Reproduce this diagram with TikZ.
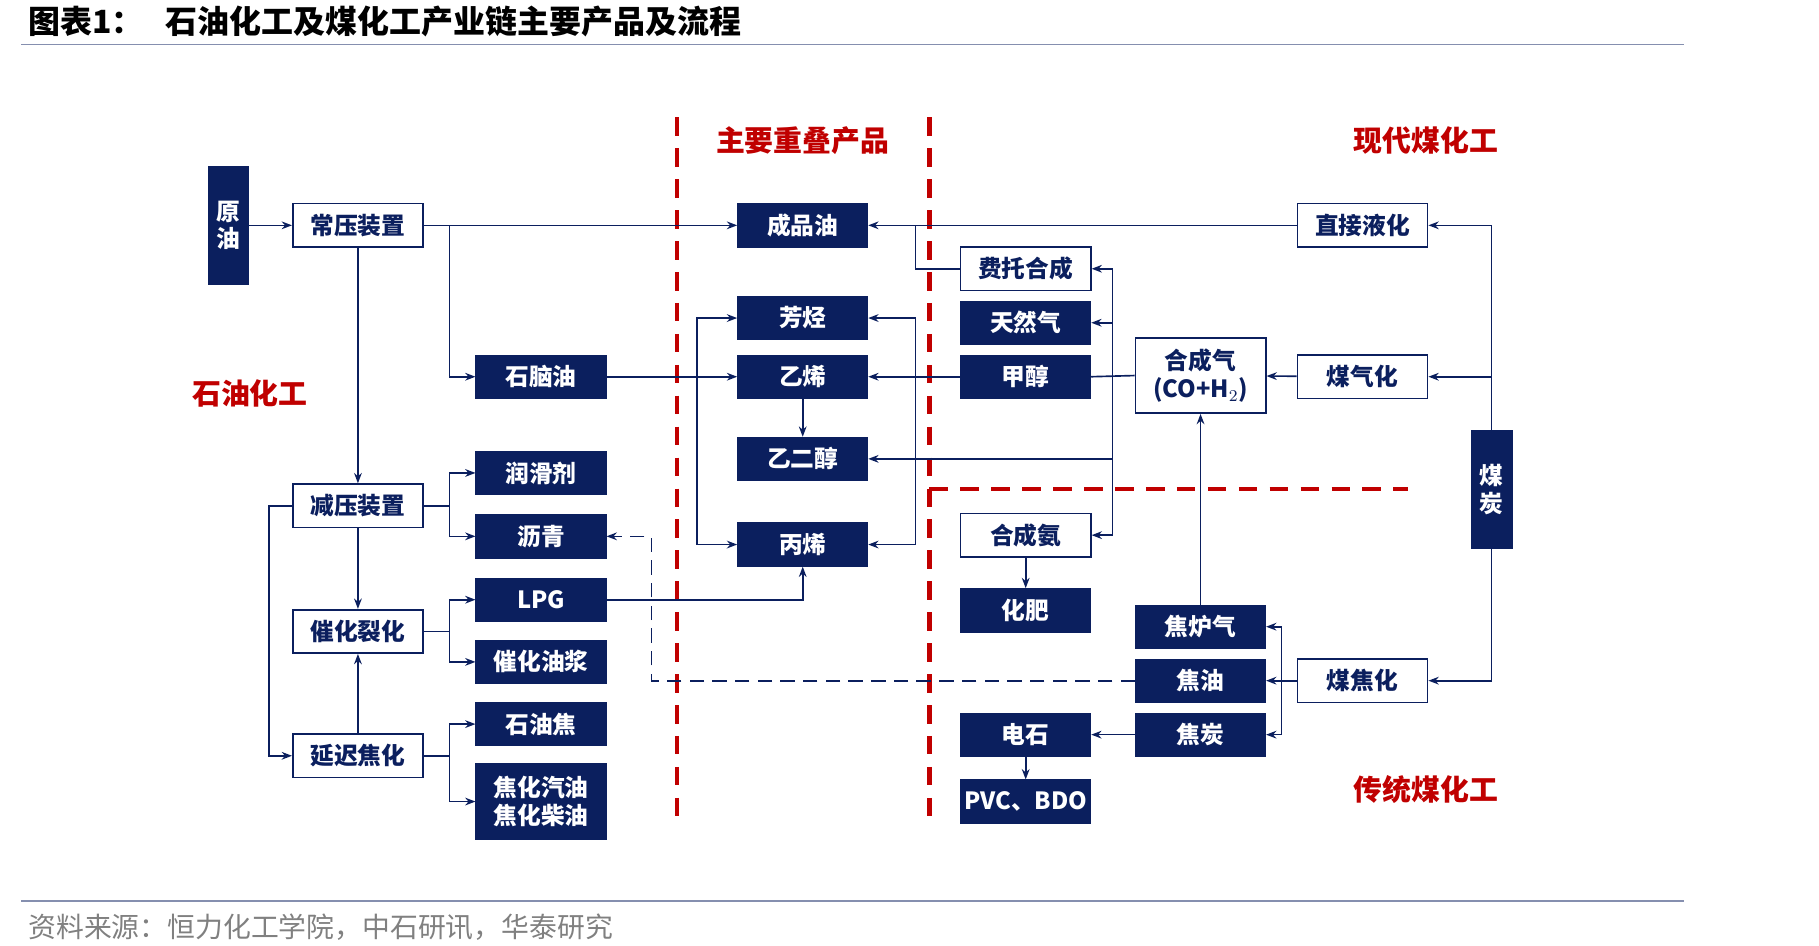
\documentclass[tikz,border=0pt]{standalone}
\usepackage{fontspec}
\setmainfont{Noto Sans CJK SC}
\usetikzlibrary{arrows.meta}
\definecolor{navy}{HTML}{0B1F5E}
\definecolor{redline}{HTML}{C00000}
\tikzset{
  dark/.style={fill=navy, draw=navy, text=white, minimum width=2.22cm, minimum height=0.74cm, font=\fontsize{11.5}{13.5}\selectfont\bfseries, inner sep=1pt},
  light/.style={fill=white, draw=navy, thick, text=navy, minimum width=2.22cm, minimum height=0.74cm, font=\fontsize{11.5}{13.5}\selectfont\bfseries, inner sep=1pt},
  flow/.style={draw=navy, thick, -{Stealth[length=5pt]}},
  link/.style={draw=navy, thick},
  sep/.style={draw=redline, line width=2pt, dash pattern=on 9pt off 6pt},
  area/.style={text=redline, font=\fontsize{14}{16}\selectfont\bfseries}
}
\begin{document}
\begin{tikzpicture}[x=0.02cm, y=-0.02cm]
    \useasboundingbox (0,0) rectangle (1550,806);

    % title and frame lines
    \node[anchor=west, font=\fontsize{15.5}{18}\selectfont\bfseries](title) at (18,18){图表1：\ \ \ 石油化工及煤化工产业链主要产品及流程};
    \draw[color=navy!50, thick] (18,38) -- (1435,38);
    \draw[color=navy!50, thick] (18,768) -- (1435,768);
    \node[anchor=west, text=gray, font=\fontsize{13.5}{16}\selectfont](source) at (18,790){资料来源：恒力化工学院，中石研讯，华泰研究};

    % separators
    \draw[sep] (577,100) -- (577,703);
    \draw[sep] (792,100) -- (792,703);
    \draw[sep] (792,417) -- (1200,417);
    \node[area](overlap) at (684,120){主要重叠产品};
    \node[area](modern) at (1215,120){现代煤化工};
    \node[area](petro) at (213,335){石油化工};
    \node[area](tradition) at (1215,673){传统煤化工};

    % petrochemical side
    \node[dark, minimum width=0.68cm, minimum height=2cm, align=center](crude) at (195,192){原\\油};
    \node[light](atmos) at (305,192){常压装置};
    \node[light](vacuum) at (305,431){减压装置};
    \node[light](fcc) at (305,538){催化裂化};
    \node[light](coker) at (305,644){延迟焦化};
    \node[dark](naphtha) at (461,321){石脑油};
    \node[dark](lube) at (461,403){润滑剂};
    \node[dark](asphalt) at (461,457){沥青};
    \node[dark](lpg) at (461,511){LPG};
    \node[dark](slurry) at (461,564){催化油浆};
    \node[dark](petcoke) at (461,617){石油焦};
    \node[dark, minimum height=1.3cm, align=center](cokefuel) at (461,683){焦化汽油\\焦化柴油};

    % overlapping products
    \node[dark](oil) at (684,192){成品油};
    \node[dark](arom) at (684,271){芳烃};
    \node[dark](ethylene) at (684,321){乙烯};
    \node[dark](glycol) at (684,391){乙二醇};
    \node[dark](propylene) at (684,464){丙烯};

    % coal chemical side
    \node[light](ft) at (874,229){费托合成};
    \node[dark](natgas) at (874,275){天然气};
    \node[dark](methanol) at (874,321){甲醇};
    \node[light](ammonia) at (874,456){合成氨};
    \node[dark](fert) at (874,520){化肥};
    \node[dark](carbide) at (874,626){电石};
    \node[dark](pvc) at (874,683){PVC、BDO};
    \node[light, minimum height=1.28cm, align=center](syngas) at (1023,320){合成气\\(CO+H$_2$)};
    \node[dark](cokegas) at (1023,534){焦炉气};
    \node[dark](tar) at (1023,580){焦油};
    \node[dark](coke) at (1023,626){焦炭};
    \node[light](dcl) at (1161,192){直接液化};
    \node[light](gasif) at (1161,321){煤气化};
    \node[light](coking) at (1161,580){煤焦化};
    \node[dark, minimum width=0.7cm, minimum height=2cm, align=center](coal) at (1271,417){煤\\炭};

    % petrochemical flows
    \draw[flow] (crude) -- (atmos);
    \draw[flow] (atmos) -- (oil);
    \draw[flow] (383,192) |- (naphtha);
    \draw[flow] (atmos) -- (vacuum);
    \draw[flow] (vacuum) -- (fcc);
    \draw[flow] (coker) -- (fcc);
    \draw[flow] (vacuum.west) -- (229,431) |- (coker.west);
    \draw[flow] (vacuum.east) -- (383,431) |- (lube.west);
    \draw[flow] (383,431) |- (asphalt.west);
    \draw[flow] (fcc.east) -- (383,538) |- (lpg.west);
    \draw[flow] (383,538) |- (slurry.west);
    \draw[flow] (coker.east) -- (383,644) |- (petcoke.west);
    \draw[flow] (383,644) |- (cokefuel.west);

    % into the overlapping products
    \draw[flow] (naphtha) -- (ethylene);
    \draw[flow] (594,321) |- (arom.west);
    \draw[flow] (594,321) |- (propylene.west);
    \draw[flow] (ethylene) -- (glycol);
    \draw[flow] (lpg.east) -| (propylene.south);
    \draw[flow] (methanol) -- (ethylene);
    \draw[flow] (780,321) |- (arom.east);
    \draw[flow] (780,321) |- (propylene.east);
    \draw[flow] (dcl) -- (oil);
    \draw[link] (ft.west) -| (780,192);

    % coal chemical flows
    \draw[link] (syngas.west) -- (methanol.east);
    \draw[flow] (948,321) |- (ft.east);
    \draw[flow] (948,321) |- (natgas.east);
    \draw[flow] (948,321) |- (ammonia.east);
    \draw[flow] (948,391) -- (glycol.east);
    \draw[flow] (ammonia) -- (fert);
    \draw[flow] (gasif) -- (syngas);
    \draw[flow] (cokegas) -- (syngas);
    \draw[flow] (coal.north) |- (dcl.east);
    \draw[flow] (1271,321) -- (gasif.east);
    \draw[flow] (coal.south) |- (coking.east);
    \draw[flow] (coking) -- (tar);
    \draw[flow] (1092,580) |- (cokegas.east);
    \draw[flow] (1092,580) |- (coke.east);
    \draw[flow] (coke) -- (carbide);
    \draw[flow] (carbide) -- (pvc);
    \draw[flow, dash pattern=on 7pt off 4pt] (tar.west) -- (555,580) |- (asphalt.east);
\end{tikzpicture}
\end{document}
